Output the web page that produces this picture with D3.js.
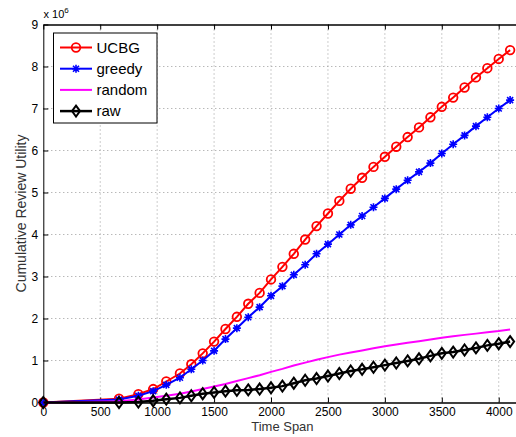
<!DOCTYPE html>
<html>
<head>
<meta charset="utf-8">
<script src="https://cdn.jsdelivr.net/npm/d3@7"></script>
<style>
  body { margin: 0; background: #fff; }
  svg { display: block; font-family: "Liberation Sans", Arial, sans-serif; }
</style>
</head>
<body>
<div id="chart"></div>
<script>
const FRAME_WIDTH = 516;
const FRAME_HEIGHT = 437;
const MARGINS = {left: 43.3, right: -5.5, top: 24.5, bottom: 34.5};

const VIS_WIDTH = FRAME_WIDTH - MARGINS.left - MARGINS.right;
const VIS_HEIGHT = FRAME_HEIGHT - MARGINS.top - MARGINS.bottom;

// time stamps (markers are drawn at each one)
const TIMES = [0, 665, 835, 965, 1080, 1200, 1300, 1400, 1500, 1600, 1700, 1800,
  1900, 2000, 2100, 2200, 2300, 2400, 2500, 2600, 2700, 2800, 2900, 3000,
  3100, 3200, 3300, 3400, 3500, 3600, 3700, 3800, 3900, 4000, 4100];

// values in millions
const UCBG = [0, 0.09, 0.20, 0.32, 0.50, 0.69, 0.91, 1.17, 1.45, 1.75, 2.04, 2.35,
  2.61, 2.93, 3.23, 3.54, 3.88, 4.20, 4.50, 4.80, 5.09, 5.35, 5.61, 5.85,
  6.09, 6.32, 6.55, 6.79, 7.04, 7.26, 7.50, 7.74, 7.96, 8.18, 8.39];
const GREEDY = [0, 0.07, 0.16, 0.27, 0.42, 0.59, 0.79, 1.00, 1.23, 1.51, 1.77, 2.03,
  2.27, 2.54, 2.77, 3.04, 3.28, 3.54, 3.77, 4.00, 4.23, 4.44, 4.65, 4.86,
  5.08, 5.29, 5.49, 5.70, 5.93, 6.15, 6.36, 6.58, 6.79, 7.00, 7.20];
const RANDOM = [0, 0.03, 0.07, 0.12, 0.16, 0.21, 0.26, 0.32, 0.38, 0.44, 0.51, 0.58,
  0.65, 0.73, 0.80, 0.88, 0.95, 1.02, 1.08, 1.14, 1.19, 1.24, 1.29, 1.34,
  1.38, 1.42, 1.46, 1.50, 1.54, 1.58, 1.61, 1.64, 1.67, 1.70, 1.74];
const RAW = [0, 0.00, 0.01, 0.04, 0.08, 0.11, 0.16, 0.21, 0.24, 0.27, 0.29, 0.30,
  0.32, 0.35, 0.39, 0.46, 0.53, 0.57, 0.63, 0.69, 0.75, 0.79, 0.84, 0.89,
  0.94, 0.99, 1.04, 1.11, 1.17, 1.20, 1.25, 1.30, 1.36, 1.40, 1.45];

const X_TICKS = [0, 500, 1000, 1500, 2000, 2500, 3000, 3500, 4000];
const Y_TICKS = [0, 1, 2, 3, 4, 5, 6, 7, 8, 9];

const SERIES_NAMES = ["UCBG", "greedy", "random", "raw"];
const SERIES_VALUES = [UCBG, GREEDY, RANDOM, RAW];
const SERIES_COLORS = ["#ff0000", "#0000ff", "#ff00ff", "#000000"];
const SERIES_MARKERS = ["circle", "star", "none", "diamond"];
const SERIES_WIDTHS = [2, 2, 2, 2.5];

const FRAME = d3.select("#chart")
  .append("svg")
    .attr("width", FRAME_WIDTH)
    .attr("height", FRAME_HEIGHT);

const X_SCALE = d3.scaleLinear()
  .domain([0, 4200])
  .range([MARGINS.left, MARGINS.left + VIS_WIDTH]);

const Y_SCALE = d3.scaleLinear()
  .domain([0, 9])
  .range([MARGINS.top + VIS_HEIGHT, MARGINS.top]);

// dotted grid
FRAME.append("g")
  .selectAll("line")
  .data(X_TICKS.slice(1))
  .enter()
  .append("line")
    .attr("x1", (d) => X_SCALE(d))
    .attr("x2", (d) => X_SCALE(d))
    .attr("y1", Y_SCALE(0))
    .attr("y2", Y_SCALE(9))
    .attr("stroke", "#9a9a9a")
    .attr("stroke-width", 1)
    .attr("stroke-dasharray", "1,3");

FRAME.append("g")
  .selectAll("line")
  .data(Y_TICKS.slice(1, -1))
  .enter()
  .append("line")
    .attr("x1", X_SCALE(0))
    .attr("x2", X_SCALE(4200))
    .attr("y1", (d) => Y_SCALE(d))
    .attr("y2", (d) => Y_SCALE(d))
    .attr("stroke", "#9a9a9a")
    .attr("stroke-width", 1)
    .attr("stroke-dasharray", "1,3");

// axes (ticks pointing inward, like matlab)
const xAxis = FRAME.append("g")
  .attr("transform", "translate(0," + Y_SCALE(0) + ")")
  .call(d3.axisBottom(X_SCALE).tickValues(X_TICKS).tickFormat(d3.format("d"))
    .tickSizeInner(-5).tickSizeOuter(0).tickPadding(5));

const xAxisTop = FRAME.append("g")
  .attr("transform", "translate(0," + Y_SCALE(9) + ")")
  .call(d3.axisTop(X_SCALE).tickValues(X_TICKS).tickSizeInner(-5).tickSizeOuter(0).tickFormat(""));

const yAxis = FRAME.append("g")
  .attr("transform", "translate(" + X_SCALE(0) + ",0)")
  .call(d3.axisLeft(Y_SCALE).tickValues(Y_TICKS).tickSizeInner(-5).tickSizeOuter(0).tickPadding(5));

[xAxis, xAxisTop, yAxis].forEach((g) => {
  g.selectAll("text")
    .attr("font-size", "12px")
    .attr("fill", "#000")
    .attr("font-family", "Liberation Sans, Arial, sans-serif");
  g.selectAll("line").attr("stroke", "#000");
});
xAxis.select(".domain").attr("stroke", "#000").attr("stroke-width", 1.4);
xAxisTop.select(".domain").attr("stroke", "#000").attr("stroke-width", 1.4);
yAxis.select(".domain").attr("stroke", "#000").attr("stroke-width", 1);

// lines
const line = d3.line()
  .x((d) => X_SCALE(d[0]))
  .y((d) => Y_SCALE(d[1]));

function drawMarker(g, type, x, y, color) {
  if (type == "circle") {
    g.append("circle")
      .attr("cx", x).attr("cy", y).attr("r", 4.3)
      .attr("fill", "none").attr("stroke", color).attr("stroke-width", 1.8);
  } else if (type == "star") {
    g.append("path")
      .attr("d", "M" + (x - 4) + "," + y + "h8M" + x + "," + (y - 4) + "v8" +
                 "M" + (x - 3) + "," + (y - 3) + "l6,6M" + (x - 3) + "," + (y + 3) + "l6,-6")
      .attr("stroke", color).attr("stroke-width", 1.6).attr("fill", "none");
  } else if (type == "diamond") {
    g.append("path")
      .attr("d", "M" + x + "," + (y - 5.5) + "L" + (x + 4) + "," + y + "L" + x + "," + (y + 5.5) + "L" + (x - 4) + "," + y + "Z")
      .attr("fill", "none").attr("stroke", color).attr("stroke-width", 2);
  }
}

SERIES_VALUES.forEach((vals, i) => {
  const pts = TIMES.map((t, j) => [t, vals[j]]);
  const g = FRAME.append("g");
  g.append("path")
    .datum(pts)
    .attr("d", line)
    .attr("fill", "none")
    .attr("stroke", SERIES_COLORS[i])
    .attr("stroke-width", SERIES_WIDTHS[i]);
  pts.forEach((p) => drawMarker(g, SERIES_MARKERS[i], X_SCALE(p[0]), Y_SCALE(p[1]), SERIES_COLORS[i]));
});

// exponent label
const expText = FRAME.append("text")
  .attr("x", 43.5)
  .attr("y", 18)
  .attr("font-size", "11px")
  .attr("fill", "#000");
expText.append("tspan").text("x 10");
expText.append("tspan").attr("dy", -5).attr("font-size", "8px").text("6");

// axis labels
FRAME.append("text")
  .attr("x", (MARGINS.left + MARGINS.left + VIS_WIDTH) / 2)
  .attr("y", 431)
  .attr("text-anchor", "middle")
  .attr("font-size", "13px")
  .attr("fill", "#333")
  .text("Time Span");

FRAME.append("text")
  .attr("transform", "translate(26," + (MARGINS.top + VIS_HEIGHT / 2) + ") rotate(-90)")
  .attr("text-anchor", "middle")
  .attr("font-size", "14px")
  .attr("fill", "#333")
  .text("Cumulative Review Utility");

// legend
const LEGEND = FRAME.append("g");
LEGEND.append("rect")
  .attr("x", 53.5).attr("y", 33)
  .attr("width", 103.5).attr("height", 90)
  .attr("fill", "#fff")
  .attr("stroke", "#000")
  .attr("stroke-width", 1);

SERIES_NAMES.forEach((name, i) => {
  const y = 47.5 + i * 21.2;
  LEGEND.append("line")
    .attr("x1", 60).attr("x2", 92)
    .attr("y1", y).attr("y2", y)
    .attr("stroke", SERIES_COLORS[i])
    .attr("stroke-width", SERIES_WIDTHS[i]);
  drawMarker(LEGEND, SERIES_MARKERS[i], 76, y, SERIES_COLORS[i]);
  LEGEND.append("text")
    .attr("x", 96.5).attr("y", y + 5)
    .attr("font-size", "15px")
    .attr("fill", "#000")
    .text(name);
});
</script>
</body>
</html>
